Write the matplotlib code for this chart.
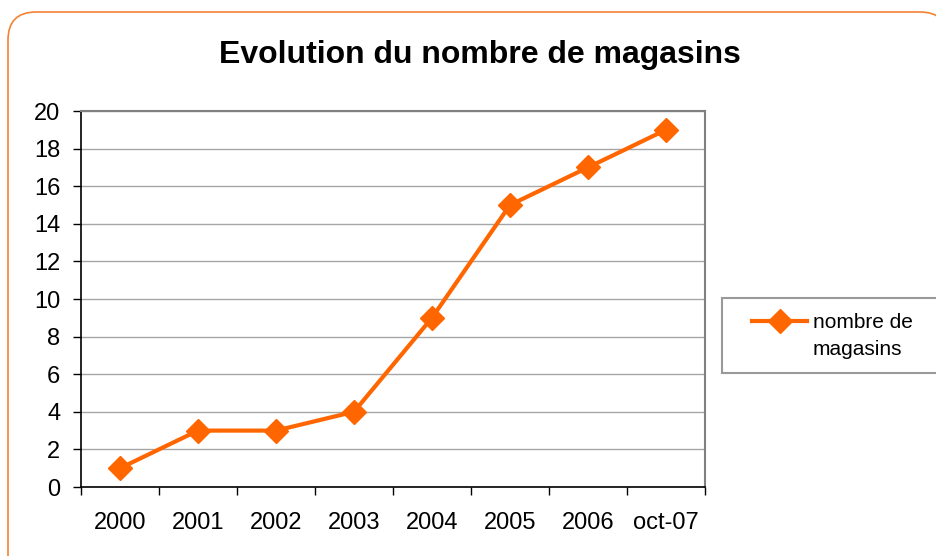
import numpy as np
import matplotlib.pyplot as plt
from matplotlib.patches import FancyBboxPatch

years = ['2000', '2001', '2002', '2003', '2004', '2005', '2006', 'oct-07']
magasins = [1, 3, 3, 4, 9, 15, 17, 19]

plt.rcParams['font.family'] = 'Liberation Sans'
orange = '#FF6600'

fig = plt.figure(figsize=(9.36, 5.56), dpi=100)

# cadre arrondi orange (coordonnées en pixels)
bg = fig.add_axes([0, 0, 1, 1], zorder=-1)
bg.set_xlim(0, 936)
bg.set_ylim(556, 0)
bg.axis('off')
bg.add_patch(FancyBboxPatch((8, 12), 940, 580, boxstyle='round,pad=0,rounding_size=28',
                            fc='white', ec='#F58232', lw=1.2))

ax = fig.add_axes([81 / 936, 1 - 487 / 556, 624 / 936, 376 / 556])
x = np.arange(len(years)) + 0.5
ax.plot(x, magasins, color=orange, lw=3, marker='D', ms=12, label='nombre de    \nmagasins')

ax.set_xlim(0, len(years))
ax.set_ylim(0, 20)
ax.set_yticks(range(0, 21, 2))
ax.set_xticks(range(len(years) + 1))
ax.set_xticklabels([])
ax.set_xticks(x, minor=True)
ax.set_xticklabels(years, minor=True)
ax.tick_params(axis='x', which='major', length=6, width=1, color='black')
ax.tick_params(axis='x', which='minor', length=0, pad=18, labelsize=17)
ax.tick_params(axis='y', length=6, width=1, pad=9, labelsize=17)
ax.yaxis.grid(True, color='#A6A6A6', lw=1)
ax.set_axisbelow(True)
for s in ['top', 'right']:
    ax.spines[s].set_color('#808080')
    ax.spines[s].set_linewidth(1.5)
for s in ['left', 'bottom']:
    ax.spines[s].set_color('black')
    ax.spines[s].set_linewidth(1.2)

fig.text(480 / 936, 1 - 55 / 556, 'Evolution du nombre de magasins', ha='center', va='center',
         fontsize=23, fontweight='bold')

leg = fig.legend(loc='upper left', bbox_to_anchor=(722 / 936, 1 - 298 / 556), fontsize=15,
                 frameon=True, fancybox=False, handlelength=3.4, handletextpad=0.25,
                 borderpad=0.7, borderaxespad=0)
leg.get_frame().set_edgecolor('#808080')
leg.get_frame().set_linewidth(1.5)
leg.get_texts()[0].set_linespacing(1.55)
# ligne de légende alignée sur la première ligne du texte
h = leg.legend_handles[0]
xd = np.asarray(h.get_xdata(), float)
yd = np.asarray(h.get_ydata(), float)
x0 = xd[0] + 11
h.set_xdata([x0, (x0 + xd[-1]) / 2, xd[-1]])
h.set_ydata(yd + 11)

fig.savefig('out.png', dpi=100)
